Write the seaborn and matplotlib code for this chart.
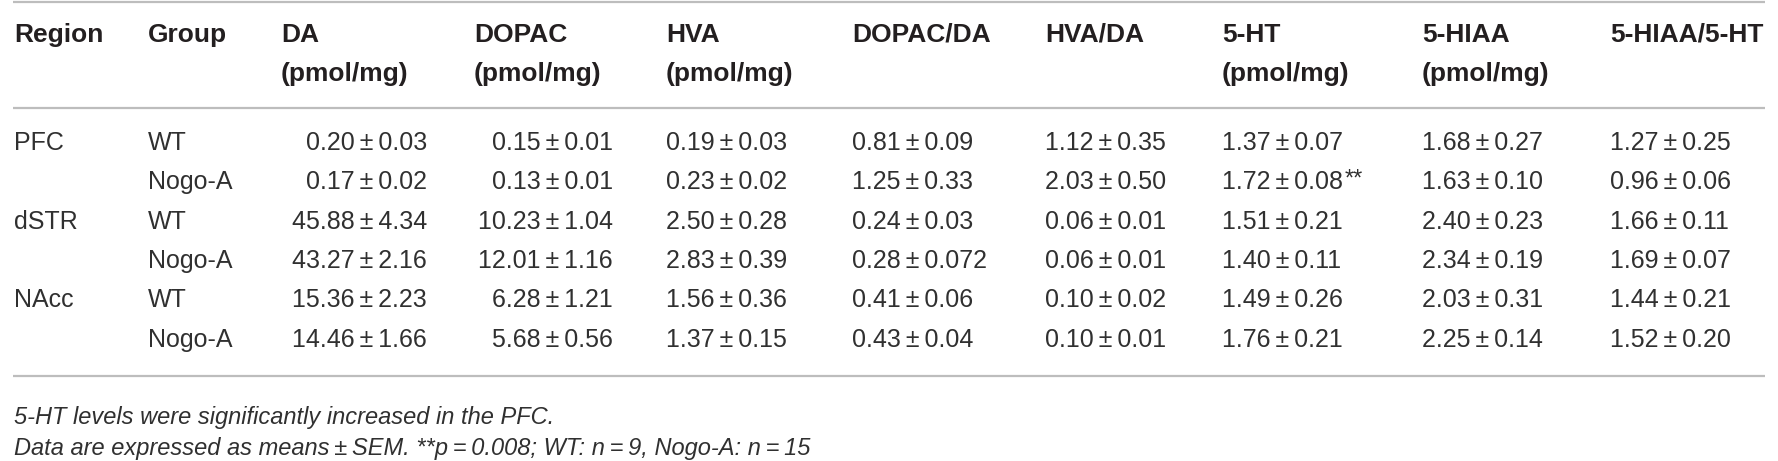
import matplotlib
matplotlib.use("Agg")
import matplotlib.pyplot as plt
import seaborn as sns

# ── table content ─────────────────────────────────────────────────────────────
regions = ["PFC", "", "dSTR", "", "NAcc", ""]
groups = ["WT", "Nogo-A", "WT", "Nogo-A", "WT", "Nogo-A"]

headers = ["DA", "DOPAC", "HVA", "DOPAC/DA", "HVA/DA", "5-HT", "5-HIAA", "5-HIAA/5-HT"]
units = ["(pmol/mg)", "(pmol/mg)", "(pmol/mg)", "", "", "(pmol/mg)", "(pmol/mg)", ""]

da_mean = ["0.20", "0.17", "45.88", "43.27", "15.36", "14.46"]
da_sem = ["0.03", "0.02", "4.34", "2.16", "2.23", "1.66"]
dopac_mean = ["0.15", "0.13", "10.23", "12.01", "6.28", "5.68"]
dopac_sem = ["0.01", "0.01", "1.04", "1.16", "1.21", "0.56"]
hva_mean = ["0.19", "0.23", "2.50", "2.83", "1.56", "1.37"]
hva_sem = ["0.03", "0.02", "0.28", "0.39", "0.36", "0.15"]
dopac_da_mean = ["0.81", "1.25", "0.24", "0.28", "0.41", "0.43"]
dopac_da_sem = ["0.09", "0.33", "0.03", "0.072", "0.06", "0.04"]
hva_da_mean = ["1.12", "2.03", "0.06", "0.06", "0.10", "0.10"]
hva_da_sem = ["0.35", "0.50", "0.01", "0.01", "0.02", "0.01"]
ht_mean = ["1.37", "1.72", "1.51", "1.40", "1.49", "1.76"]
ht_sem = ["0.07", "0.08", "0.21", "0.11", "0.26", "0.21"]
ht_sig = ["", "**", "", "", "", ""]
hiaa_mean = ["1.68", "1.63", "2.40", "2.34", "2.03", "2.25"]
hiaa_sem = ["0.27", "0.10", "0.23", "0.19", "0.31", "0.14"]
hiaa_ht_mean = ["1.27", "0.96", "1.66", "1.69", "1.44", "1.52"]
hiaa_ht_sem = ["0.25", "0.06", "0.11", "0.07", "0.21", "0.20"]

footnotes = [
    "5-HT levels were significantly increased in the PFC.",
    "Data are expressed as means\u2009\u00b1\u2009SEM. **p\u2009=\u20090.008; WT: n\u2009=\u20099, Nogo-A: n\u2009=\u200915",
]

means = [da_mean, dopac_mean, hva_mean, dopac_da_mean, hva_da_mean, ht_mean, hiaa_mean, hiaa_ht_mean]
sems = [da_sem, dopac_sem, hva_sem, dopac_da_sem, hva_da_sem, ht_sem, hiaa_sem, hiaa_ht_sem]

# ── layout (pixel coordinates) ───────────────────────────────────────────────
W, H = 1778, 461
x_region, x_group = 14, 148
col_x = [281, 474, 666, 852, 1045, 1222, 1422, 1610]
right_x = {0: 427, 1: 613}          # DA and DOPAC values are right aligned
head_base = [42, 81]
row_base0, row_step = 150, 39.3
rule_y = [2, 108, 376]
foot_base = [424, 455]
HEAD = "#231f20"
TXT = "#303030"
RULE = "#bdbdbd"
FS, FS_HEAD = 18, 19

sns.set_theme(style="white")
plt.rcParams["font.family"] = ["Liberation Sans", "DejaVu Sans"]

fig = plt.figure(figsize=(W / 100, H / 100), dpi=100)
ax = fig.add_axes([0, 0, 1, 1])
ax.set_xlim(0, W)
ax.set_ylim(H, 0)
ax.axis("off")

ax.hlines(rule_y, 13, 1765, color=RULE, lw=1.6)

# header
hkw = dict(fontsize=FS_HEAD, fontweight="bold", color=HEAD, va="baseline")
ax.text(x_region, head_base[0], "Region", **hkw)
ax.text(x_group, head_base[0], "Group", **hkw)
for x, h, u in zip(col_x, headers, units):
    ax.text(x, head_base[0], h, **hkw)
    if u:
        ax.text(x, head_base[1], u, **hkw)

# body
for i in range(len(groups)):
    y = row_base0 + i * row_step
    ax.text(x_region, y, regions[i], fontsize=FS, color=TXT, va="baseline")
    ax.text(x_group, y, groups[i], fontsize=FS, color=TXT, va="baseline")
    for j, (mn, se) in enumerate(zip(means, sems)):
        label = f"{mn[i]}\u2009\u00b1\u2009{se[i]}"
        if j in right_x:
            t = ax.text(right_x[j], y, label, fontsize=FS, color=TXT, va="baseline", ha="right")
        else:
            t = ax.text(col_x[j], y, label, fontsize=FS, color=TXT, va="baseline")
        if j == 5 and ht_sig[i]:
            ax.annotate(ht_sig[i], xy=(1, 1), xycoords=t, xytext=(1, 1),
                        textcoords="offset points", fontsize=17, color=TXT,
                        va="top", ha="left")

for y, note in zip(foot_base, footnotes):
    ax.text(x_region, y, note, fontsize=17, style="italic", color=TXT, va="baseline")

fig.savefig("out.png", dpi=100)
